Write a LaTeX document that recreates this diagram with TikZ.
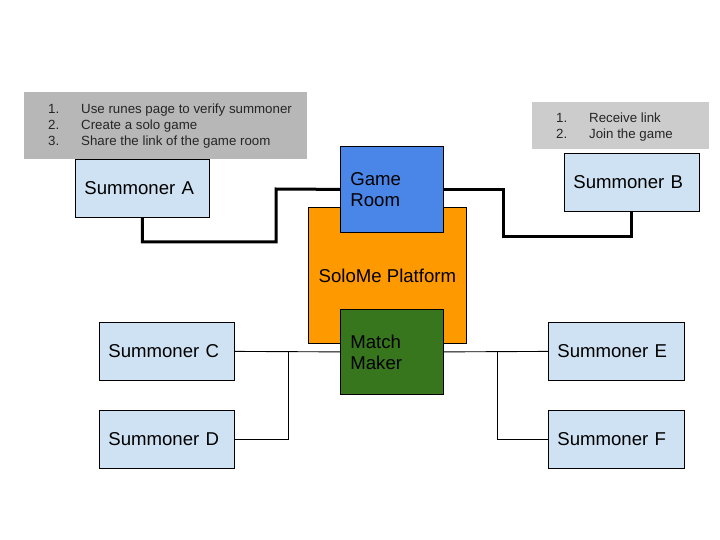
\documentclass[tikz,border=0pt]{standalone}
\usepackage{fontspec}
\setmainfont{Liberation Sans}
\definecolor{sumblue}{HTML}{CFE2F3}
\definecolor{roomblue}{HTML}{4A86E8}
\definecolor{platorange}{HTML}{FF9900}
\definecolor{mmgreen}{HTML}{38761D}
\definecolor{noteAgray}{HTML}{B7B7B7}
\definecolor{noteBgray}{HTML}{CCCCCC}
\begin{document}
\begin{tikzpicture}[x=1pt,y=-1pt,
  box/.style={draw=black, line width=0.8pt, anchor=north west, inner ysep=0pt, align=left,
    font=\fontsize{18.6}{21}\selectfont, text=black},
  summ/.style={box, fill=sumblue, inner xsep=9pt, text width=#1, minimum height=58pt},
  inner/.style={box, inner xsep=10pt, text width=83pt},
  note/.style={anchor=north west, inner sep=0pt, draw=none},
  notetext/.style={anchor=west, inner sep=0pt, align=left, text=black!85,
    font=\fontsize{13.3}{16}\selectfont},
  thickline/.style={draw=black, line width=3pt, line join=miter},
  thinline/.style={draw=black, line width=0.9pt}]
\useasboundingbox[fill=white] (0,0) rectangle (720,540);

% notes
\node[note, fill=noteAgray, minimum width=283pt, minimum height=67pt] (nA) at (24,92) {};
\node[notetext] (nAt) at (48,126)
  {\makebox[33pt][l]{1.}Use runes page to verify summoner\\
   \makebox[33pt][l]{2.}Create a solo game\\
   \makebox[33pt][l]{3.}Share the link of the game room};
\node[note, fill=noteBgray, minimum width=177pt, minimum height=47pt] (nB) at (532,102) {};
\node[notetext] (nBt) at (556,127)
  {\makebox[33pt][l]{1.}Receive link\\
   \makebox[33pt][l]{2.}Join the game};

% summoners
\node[summ=116pt] (A) at (75,159) {Summoner A};
\node[summ=117pt] (B) at (564,153) {Summoner B};
\node[summ=117pt] (C) at (99,322) {Summoner C};
\node[summ=117pt] (D) at (99,410) {Summoner D};
\node[summ=118pt] (E) at (548,322) {Summoner E};
\node[summ=118pt] (F) at (548,410) {Summoner F};

% platform
\node[box, fill=platorange, align=center, inner sep=0pt, minimum width=158pt, minimum height=136pt] (P) at (308,207) {SoloMe Platform};
\node[inner, fill=roomblue, minimum height=86pt] (GR) at (340,146) {Game\\Room};
\node[inner, fill=mmgreen, minimum height=85pt] (MM) at (340,309) {Match\\Maker};

% thick connectors
\draw[thickline] (A.south) -- ++(0,24) -| (276,189) -- (GR.west);
\draw[thickline] (GR.east) -| (503,236) -| (B.south);

% thin connectors
\coordinate (jL) at (288,351);
\coordinate (jR) at (497,351);
\draw[thinline] (C.east) -- (MM.west);
\draw[thinline] (D.east) -| (jL);
\draw[thinline] (MM.east) -- (E.west);
\draw[thinline] (F.west) -| (jR);
\end{tikzpicture}
\end{document}
